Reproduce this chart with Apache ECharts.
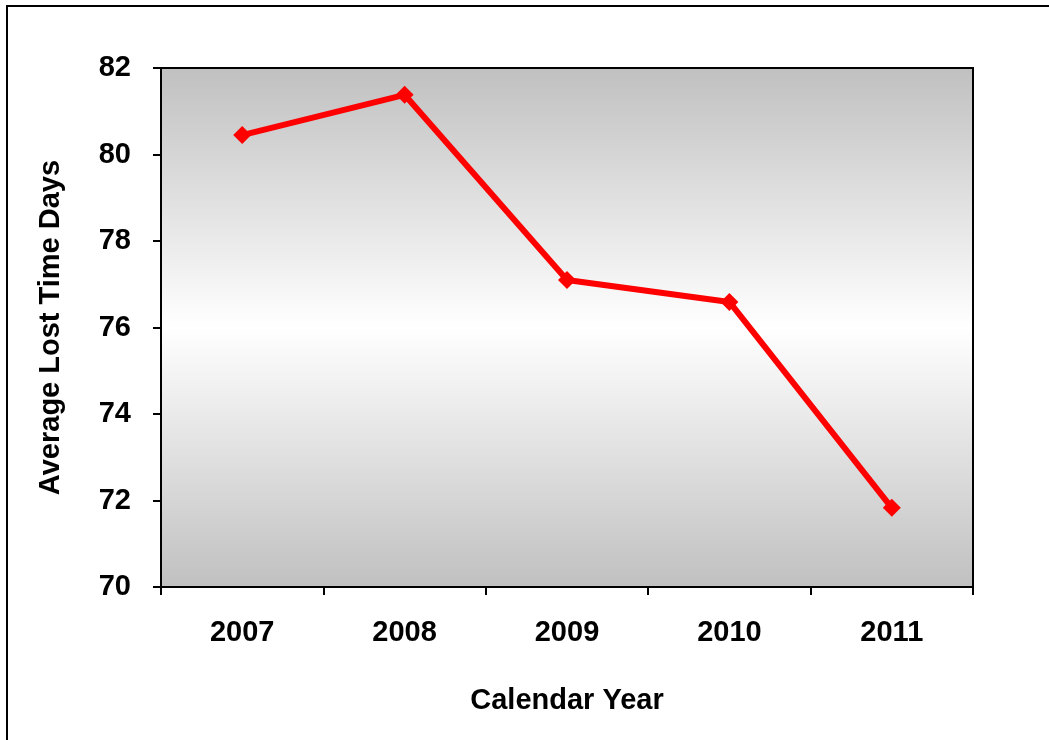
<!DOCTYPE html>
<html>
<head>
<meta charset="utf-8">
<script src="https://cdn.jsdelivr.net/npm/echarts@6/dist/echarts.min.js"></script>
<style>
html,body{margin:0;padding:0;background:#fff;}
#chart{width:1049px;height:740px;}
</style>
</head>
<body>
<div id="chart"></div>
<script>
var years = ['2007', '2008', '2009', '2010', '2011'];
var avgLostTimeDays = [80.45, 81.38, 77.1, 76.59, 71.83];
var yTicks = [70, 72, 74, 76, 78, 80, 82];

var chart = echarts.init(document.getElementById('chart'));
var font = 'Liberation Sans, Arial, sans-serif';
chart.setOption({
  animation: false,
  graphic: [{
    type: 'rect',
    shape: {x: 7, y: 6, width: 1100, height: 800},
    style: {fill: 'none', stroke: '#000', lineWidth: 2},
    silent: true
  }],
  grid: {
    left: 161, top: 68, right: 76, bottom: 153,
    show: true,
    borderColor: '#000',
    borderWidth: 2,
    backgroundColor: new echarts.graphic.LinearGradient(0, 0, 0, 1, [
      {offset: 0, color: '#c0c0c0'},
      {offset: 0.5, color: '#ffffff'},
      {offset: 1, color: '#c0c0c0'}
    ])
  },
  xAxis: {
    type: 'category',
    data: years,
    boundaryGap: true,
    name: 'Calendar Year',
    nameLocation: 'middle',
    nameGap: 99,
    nameTextStyle: {fontFamily: font, fontWeight: 'bold', fontSize: 29, color: '#000'},
    axisLine: {lineStyle: {color: '#000', width: 2}},
    axisTick: {show: true, inside: false, length: 8, alignWithLabel: false, lineStyle: {color: '#000', width: 2}},
    axisLabel: {margin: 31, fontFamily: font, fontWeight: 'bold', fontSize: 29, color: '#000'},
    splitLine: {show: false}
  },
  yAxis: {
    type: 'value',
    min: yTicks[0],
    max: yTicks[yTicks.length - 1],
    interval: 2,
    name: 'Average Lost Time Days',
    nameLocation: 'middle',
    nameGap: 96,
    nameTextStyle: {fontFamily: font, fontWeight: 'bold', fontSize: 29, color: '#000'},
    axisLine: {show: true, lineStyle: {color: '#000', width: 2}},
    axisTick: {show: true, inside: false, length: 8, lineStyle: {color: '#000', width: 2}},
    axisLabel: {margin: 30, fontFamily: font, fontWeight: 'bold', fontSize: 29, color: '#000'},
    splitLine: {show: false}
  },
  series: [{
    type: 'line',
    data: avgLostTimeDays,
    symbol: 'diamond',
    symbolSize: 18,
    lineStyle: {color: '#ff0000', width: 6},
    itemStyle: {color: '#ff0000'}
  }]
});
</script>
</body>
</html>
